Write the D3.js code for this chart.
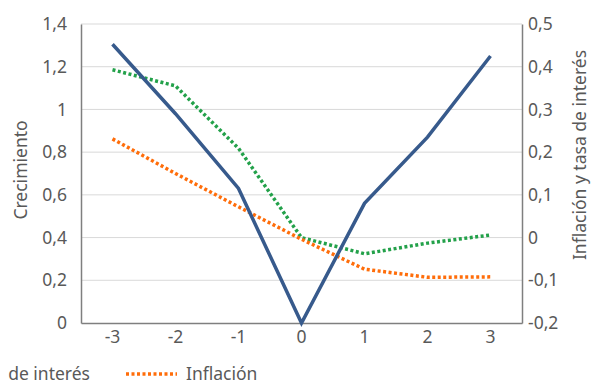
<!DOCTYPE html>
<html><head><meta charset="utf-8">
<script src="https://cdn.jsdelivr.net/npm/d3@7"></script>
<style>body{margin:0;background:#fff;overflow:hidden}svg{display:block}text{font-family:"Noto Sans",Roboto,sans-serif}</style>
</head><body>
<script>
const categories = ["-3","-2","-1","0","1","2","3"];
const crecimiento = [1.305, 0.98, 0.63, 0.0, 0.56, 0.87, 1.25];
const tasaInteres = [0.393, 0.355, 0.209, 0.0, -0.038, -0.013, 0.006];
const inflacion = [0.231, 0.15, 0.072, -0.004, -0.074, -0.093, -0.092];
const leftTicks = [0, 0.2, 0.4, 0.6, 0.8, 1, 1.2, 1.4];
const rightTicks = [-0.2, -0.1, 0, 0.1, 0.2, 0.3, 0.4, 0.5];

const W = 591, H = 383, FS = 17.5;
const m = {l: 81, r: 522, t: 24, b: 323};
const svg = d3.select("body").append("svg").attr("width", W).attr("height", H);

const x = d3.scaleBand().domain(categories).range([m.l, m.r]);
const xc = d => x(d) + x.bandwidth() / 2;
const yL = d3.scaleLinear().domain([0, 1.4]).range([m.b, m.t]);
const yR = d3.scaleLinear().domain([-0.2, 0.5]).range([m.b, m.t]);
const fmt = v => String(+v.toFixed(2)).replace(".", ",");

// gridlines
svg.append("g").selectAll("line").data(leftTicks.slice(1)).join("line")
  .attr("x1", m.l).attr("x2", m.r).attr("y1", d => yL(d)).attr("y2", d => yL(d))
  .attr("stroke", "#d9d9d9").attr("stroke-width", 1);

// axes
const gL = svg.append("g").attr("transform", `translate(${m.l},0)`)
  .call(d3.axisLeft(yL).tickValues(leftTicks).tickFormat(fmt).tickSize(0).tickPadding(14));
const gR = svg.append("g").attr("transform", `translate(${m.r},0)`)
  .call(d3.axisRight(yR).tickValues(rightTicks).tickFormat(fmt).tickSize(0).tickPadding(6));
const gB = svg.append("g").attr("transform", `translate(0,${m.b})`)
  .call(d3.axisBottom(x).tickSize(0).tickPadding(8));
[gL, gR, gB].forEach(g => {
  g.select(".domain").attr("stroke", "#7f7f7f").attr("stroke-width", 1.5);
  g.selectAll("text").attr("fill", "#595959").attr("font-size", FS);
});

// titles
svg.append("text").attr("transform", "translate(27,170) rotate(-90)")
  .attr("text-anchor", "middle").attr("fill", "#595959").attr("font-size", FS).text("Crecimiento");
svg.append("text").attr("transform", "translate(586,155) rotate(-90)")
  .attr("text-anchor", "middle").attr("fill", "#595959").attr("font-size", FS).text("Inflación y tasa de interés");

// lines
const lineL = d3.line().x((d, i) => xc(categories[i])).y(d => yL(d));
const lineR = d3.line().x((d, i) => xc(categories[i])).y(d => yR(d));
svg.append("path").datum(tasaInteres).attr("d", lineR).attr("fill", "none")
  .attr("stroke", "#23a14a").attr("stroke-width", 3.5).attr("stroke-dasharray", "3,2.5");
svg.append("path").datum(inflacion).attr("d", lineR).attr("fill", "none")
  .attr("stroke", "#ff6d0a").attr("stroke-width", 3.5).attr("stroke-dasharray", "3,2.5");
svg.append("path").datum(crecimiento).attr("d", lineL).attr("fill", "none")
  .attr("stroke", "#375a8c").attr("stroke-width", 3.5).attr("stroke-linejoin", "miter");

// legend (partially clipped at the left edge like the reference)
svg.append("clipPath").attr("id", "legclip").append("rect")
  .attr("x", 5).attr("y", 340).attr("width", W).attr("height", 60);
const leg = svg.append("g").attr("clip-path", "url(#legclip)");
const legendItems = [
  {name: "Tasa de interés", color: "#23a14a", anchor: "end", tx: 90, lx: null},
  {name: "Inflación", color: "#ff6d0a", anchor: "start", tx: 186, lx: 126}
];
legendItems.forEach(it => {
  if (it.lx !== null)
    leg.append("line").attr("x1", it.lx).attr("x2", it.lx + 51).attr("y1", 374).attr("y2", 374)
      .attr("stroke", it.color).attr("stroke-width", 3.5).attr("stroke-dasharray", "3,2.5");
  leg.append("text").attr("x", it.tx).attr("y", 380).attr("text-anchor", it.anchor)
    .attr("fill", "#595959").attr("font-size", FS).text(it.name);
});
</script>
</body></html>
